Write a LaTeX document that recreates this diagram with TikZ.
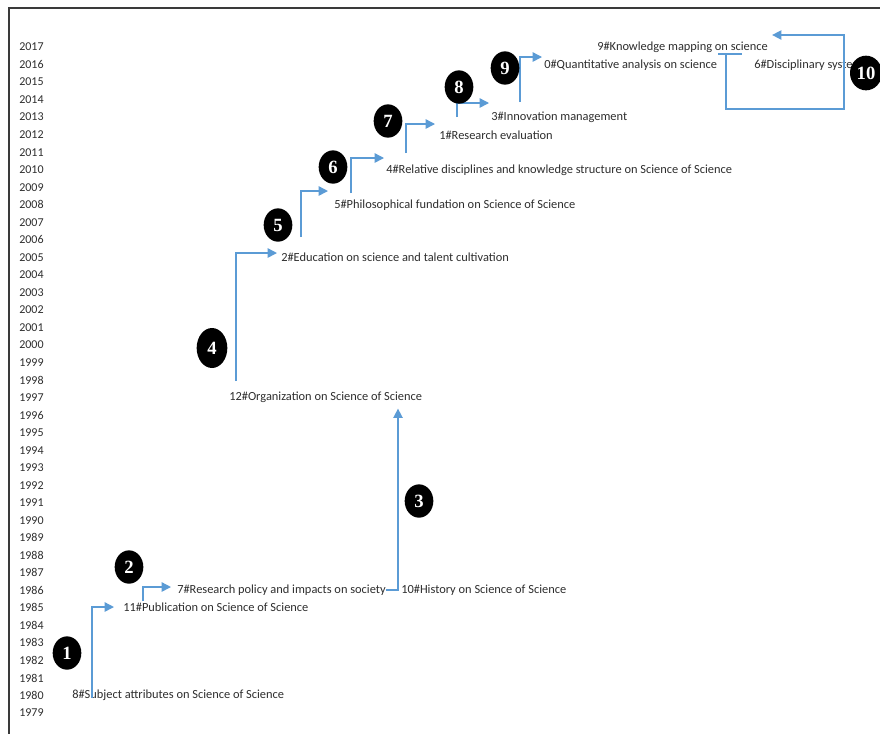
\documentclass[tikz,border=0pt]{standalone}
\usepackage{fontspec}
\setmainfont{Carlito}
\newfontfamily\badgefont{Liberation Serif}
\usetikzlibrary{arrows.meta,shapes.geometric,calc}
\definecolor{flowblue}{HTML}{5B9BD5}
\definecolor{txt}{HTML}{2E2E2E}
\definecolor{framec}{HTML}{3A3A3A}
\begin{document}
\begin{tikzpicture}[x=0.75pt,y=-0.75pt,
  lbl/.style={anchor=west,inner sep=0pt,text=txt,font=\fontsize{9.3}{10}\selectfont},
  yearlbl/.style={anchor=west,inner sep=0pt,text=txt,font=\fontsize{9}{10}\selectfont},
  flow/.style={draw=flowblue,line width=1.1pt,-{Triangle[length=7pt,width=7pt]}},
  flowline/.style={draw=flowblue,line width=1.1pt},
  badge/.style={ellipse,fill=black,text=white,inner sep=0pt,minimum width=21.5pt,minimum height=25pt,font=\badgefont\bfseries\fontsize{14}{14}\selectfont}]
\useasboundingbox (0,0) rectangle (880,733);
\clip (0,0) rectangle (880,733);
\fill[white] (0,0) rectangle (880,733);
% frame
\draw[framec,line width=1.2pt] (9,760) -- (9,8) -- (900,8);
% years
\foreach \yr in {1979,...,2017}{
  \pgfmathsetmacro{\yy}{47+(2017-\yr)*17.526}
  \node[yearlbl] (y\yr) at (19,\yy) {\yr};
}
% topic labels
\node[lbl] (n8)  at (72,695)  {8\#Subject attributes on Science of Science};
\node[lbl] (n11) at (123,607) {11\#Publication on Science of Science};
\node[lbl] (n7)  at (177,590) {7\#Research policy and impacts on society};
\node[lbl] (n10) at (401,590) {10\#History on Science of Science};
\node[lbl] (n12) at (229,397) {12\#Organization on Science of Science};
\node[lbl] (n2)  at (281,257) {2\#Education on science and talent cultivation};
\node[lbl] (n5)  at (334,205) {5\#Philosophical fundation on Science of Science};
\node[lbl] (n4)  at (386,170) {4\#Relative disciplines and knowledge structure on Science of Science};
\node[lbl] (n1)  at (439,135) {1\#Research evaluation};
\node[lbl] (n3)  at (491,117) {3\#Innovation management};
\node[lbl] (n0)  at (544,65)  {0\#Quantitative analysis on science};
\node[lbl] (n9)  at (597,47)  {9\#Knowledge mapping on science};
\node[lbl] (n6)  at (754,65)  {6\#Disciplinary system};
% flows
\draw[flow] ($(n8.west)+(20,3)$) |- ($(n11.west)+(-9,0)$);
\draw[flow] ($(n11.west)+(20,-6)$) |- ($(n7.west)+(-6,-3)$);
\coordinate (j3) at ($(n10.west)+(-3,0)$);
\draw[flow] (n7.east) -- (j3) -- ($(j3 |- n12.south)+(0,6)$);
\draw[flow] ($(n12.west)+(7,-16)$) |- ($(n2.west)+(-4,-4)$);
\draw[flow] ($(n2.west)+(20,-20)$) |- ($(n5.west)+(-6,-14)$);
\draw[flow] ($(n5.west)+(17,-12)$) |- ($(n4.west)+(-2,-12)$);
\draw[flow] ($(n4.west)+(20,-17)$) |- ($(n1.west)+(-4,-11)$);
\draw[flow] ($(n1.west)+(18,-18)$) |- ($(n3.west)+(-2,-14)$);
\draw[flow] ($(n3.west)+(29,-15)$) |- ($(n0.west)+(-2,-8)$);
\draw[flowline] ($(n9.west)+(121,7)$) -- ($(n9.west)+(145,7)$);
\draw[flow] ($(n9.west)+(129,7)$) -- ($(n9.west)+(129,62)$) -- ($(n9.west)+(247,62)$) -- ($(n9.west)+(247,-12)$) -- ($(n9.east)+(4,-12)$);
% badges
\node[badge] (c1) at (67,653) {1};
\node[badge] (c2) at (129,567) {2};
\node[badge] (c3) at (419,501) {3};
\node[badge,minimum width=23pt,minimum height=30pt] (c4) at (212,348) {4};
\node[badge] (c5) at (278,225) {5};
\node[badge] (c6) at (333,167) {6};
\node[badge] (c7) at (388,121) {7};
\node[badge] (c8) at (459,87) {8};
\node[badge] (c9) at (505,68) {9};
\node[badge,minimum width=24pt,minimum height=26pt] (c10) at (866,73) {10};
\end{tikzpicture}
\end{document}
